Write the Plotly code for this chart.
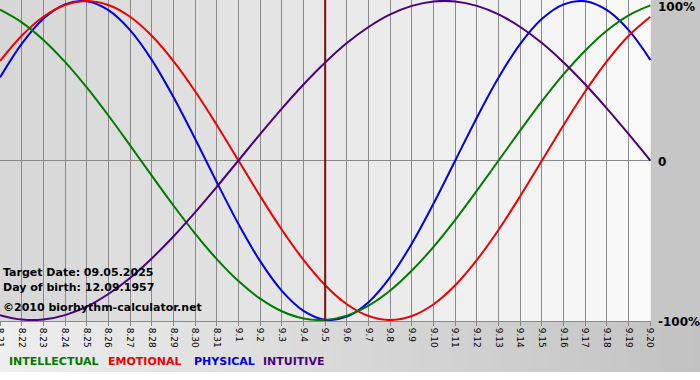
import plotly.graph_objects as go

# ---- data ----
days = ["8.21", "8.22", "8.23", "8.24", "8.25", "8.26", "8.27", "8.28", "8.29", "8.30", "8.31",
        "9.1", "9.2", "9.3", "9.4", "9.5", "9.6", "9.7", "9.8", "9.9", "9.10",
        "9.11", "9.12", "9.13", "9.14", "9.15", "9.16", "9.17", "9.18", "9.19", "9.20"]

intellectual = [0.945, 0.866, 0.756, 0.618, 0.458, 0.282, 0.095, -0.095, -0.282, -0.458, -0.618,
                -0.756, -0.866, -0.945, -0.990, -0.999, -0.972, -0.910, -0.815, -0.690, -0.541,
                -0.372, -0.189, 0.0, 0.189, 0.372, 0.541, 0.690, 0.815, 0.910, 0.972]
emotional = [0.623, 0.782, 0.901, 0.975, 1.0, 0.975, 0.901, 0.782, 0.623, 0.434, 0.223,
             0.0, -0.223, -0.434, -0.623, -0.782, -0.901, -0.975, -1.0, -0.975, -0.901,
             -0.782, -0.623, -0.434, -0.223, 0.0, 0.223, 0.434, 0.623, 0.782, 0.901]
physical = [0.520, 0.731, 0.888, 0.979, 0.998, 0.942, 0.817, 0.631, 0.398, 0.136, -0.136,
            -0.398, -0.631, -0.817, -0.942, -0.998, -0.979, -0.888, -0.731, -0.520, -0.270,
            0.0, 0.270, 0.520, 0.731, 0.888, 0.979, 0.998, 0.942, 0.817, 0.631]
intuitive = [-0.969, -0.997, -0.997, -0.969, -0.916, -0.837, -0.736, -0.614, -0.476, -0.325, -0.165,
             0.0, 0.165, 0.325, 0.476, 0.614, 0.736, 0.837, 0.916, 0.969, 0.997,
             0.997, 0.969, 0.916, 0.837, 0.736, 0.614, 0.476, 0.325, 0.165, 0.0]

y_tick_vals = [1, 0, -1]
y_tick_text = ["100%", "0", "-100%"]
target_day = "9.5"
info_lines = ["Target Date: 09.05.2025", "Day of birth: 12.09.1957", "©2010 biorhythm-calculator.net"]
legend_names = ["INTELLECTUAL", "EMOTIONAL", "PHYSICAL", "INTUITIVE"]

# ---- style ----
W, H = 700, 380
PL, PR, PT, PB = 0, 49, 0, 59          # margins
PW, PH = W - PL - PR, H - PT - PB       # plot area size
colors = {"INTELLECTUAL": "#007a00", "EMOTIONAL": "#f00000",
          "PHYSICAL": "#0000e6", "INTUITIVE": "#4b0082"}
legend_left_px = [7, 106, 192, 261]
FONT = "DejaVu Sans"


def px_x(p):
    return (p - PL) / PW


def px_y(p):
    return (PT + PH - p) / PH


xs = list(range(len(days)))
fig = go.Figure()
for name, vals in [("PHYSICAL", physical), ("EMOTIONAL", emotional),
                   ("INTELLECTUAL", intellectual), ("INTUITIVE", intuitive)]:
    fig.add_trace(go.Scatter(x=xs, y=vals, mode="lines", name=name,
                             line=dict(color=colors[name], width=2, shape="spline", smoothing=1),
                             hoverinfo="skip", showlegend=False))

shapes = []
# plot-area background: darker at left, lighter at right
n = len(days) - 1
for i in range(n):
    v = int(round(214 + (250 - 214) * (i + 0.5) / n))
    shapes.append(dict(type="rect", xref="x", yref="paper", x0=i, x1=i + 1, y0=0, y1=1,
                       fillcolor=f"rgb({v},{v},{v})", line=dict(width=0), layer="below"))
# right strip
shapes.append(dict(type="rect", xref="paper", yref="paper", x0=1, x1=px_x(W + 2), y0=0, y1=1,
                   fillcolor="#c6c6c6", line=dict(width=0), layer="below"))
# bottom strip: lighter at left, darker at right
steps = 70
for k in range(steps):
    a = k * W / steps
    b = (k + 1) * W / steps + 0.5
    v = int(round(238 - (238 - 194) * (k + 0.5) / steps))
    shapes.append(dict(type="rect", xref="paper", yref="paper", x0=px_x(a), x1=px_x(b),
                       y0=px_y(372), y1=0, fillcolor=f"rgb({v},{v},{v})",
                       line=dict(width=0), layer="below"))
# target date marker
ti = days.index(target_day)
shapes.append(dict(type="line", xref="x", yref="paper", x0=ti, x1=ti, y0=0, y1=1,
                   line=dict(color="#7a0f0f", width=2), layer="above"))

annotations = []
for j, t in enumerate(info_lines):
    annotations.append(dict(text=f"<b>{t}</b>", xref="paper", yref="paper",
                            x=px_x(1), y=px_y([272, 287, 307][j]), xanchor="left", yanchor="middle",
                            showarrow=False, font=dict(family=FONT, size=11, color="black")))
for v, t, py in zip(y_tick_vals, y_tick_text, [7, 162, 322]):
    annotations.append(dict(text=f"<b>{t}</b>", xref="paper", yref="paper",
                            x=px_x(656), y=px_y(py), xanchor="left", yanchor="middle",
                            showarrow=False, font=dict(family=FONT, size=12, color="black")))
for nm, lx in zip(legend_names, legend_left_px):
    annotations.append(dict(text=f"<b>{nm}</b>", xref="paper", yref="paper",
                            x=px_x(lx), y=px_y(362), xanchor="left", yanchor="middle",
                            showarrow=False, font=dict(family=FONT, size=11, color=colors[nm])))

fig.update_layout(
    width=W, height=H, margin=dict(l=PL, r=PR, t=PT, b=PB, pad=0, autoexpand=False),
    paper_bgcolor="white", plot_bgcolor="#e6e6e6",
    shapes=shapes, annotations=annotations, showlegend=False,
    xaxis=dict(range=[0, n + 0.03], tickvals=xs, ticktext=days, tickangle=90,
               ticklabeloverflow="allow", automargin=False,
               showgrid=True, gridcolor="#8a8a8a", gridwidth=1, zeroline=False,
               showline=True, linecolor="#8a8a8a", linewidth=1,
               ticks="outside", ticklen=4, tickcolor="#8a8a8a", tickwidth=1,
               tickfont=dict(family=FONT, size=9, color="black"), fixedrange=True),
    yaxis=dict(range=[-1.006, 1.006], showgrid=False, showticklabels=False, automargin=False,
               zeroline=True, zerolinecolor="#8a8a8a", zerolinewidth=1, fixedrange=True),
)

fig.write_html("out.html", config={"displayModeBar": False},
               post_script="document.body.style.margin='0';")
